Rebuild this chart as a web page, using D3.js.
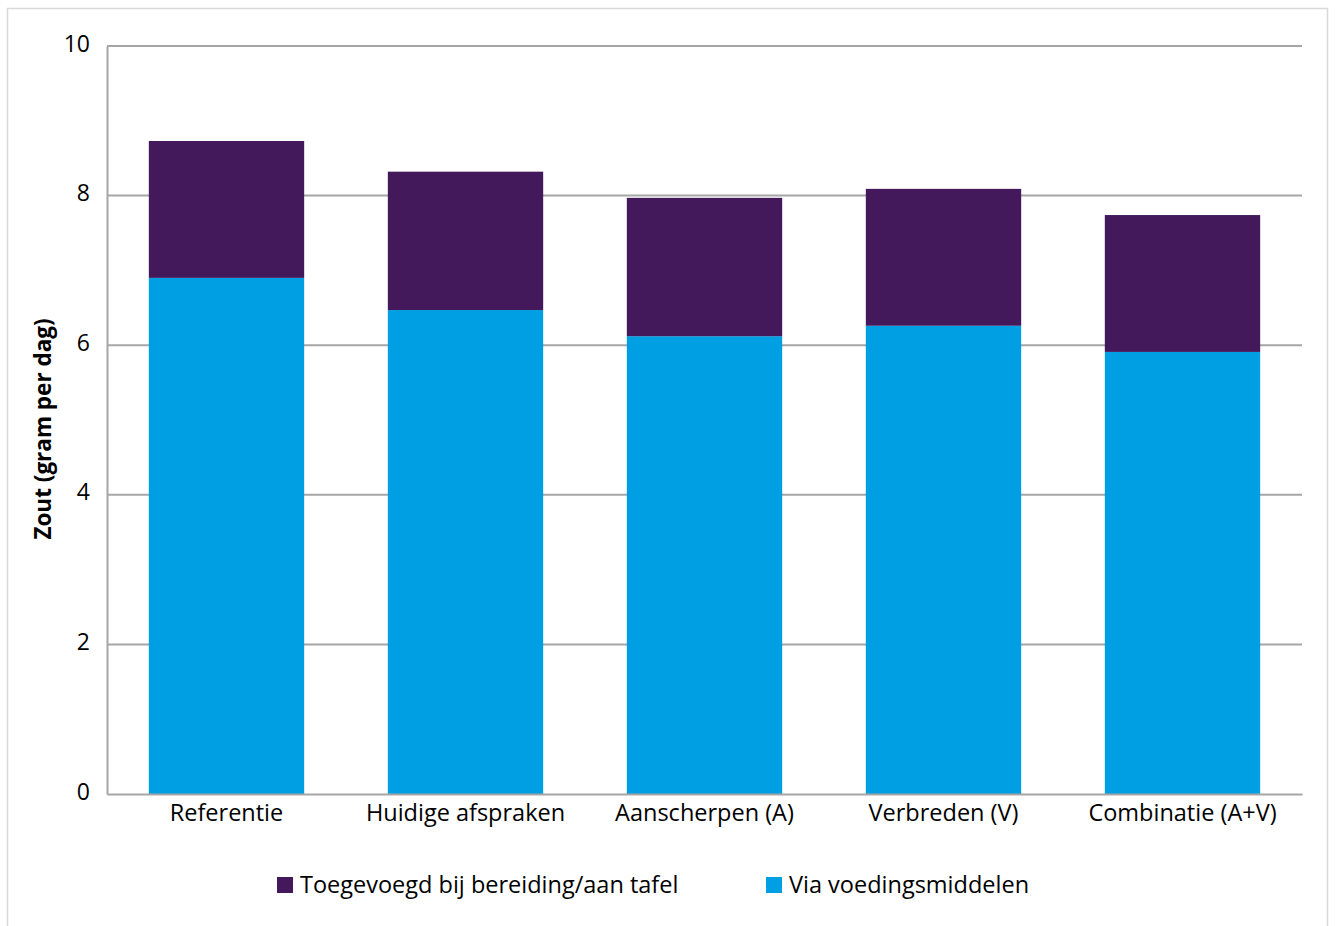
<!DOCTYPE html>
<html>
<head>
<meta charset="utf-8">
<script src="https://cdn.jsdelivr.net/npm/d3@7"></script>
<style>
  body { margin: 0; background: #fff; }
  text { font-family: "Open Sans", sans-serif; fill: #000; }
</style>
</head>
<body>
<div id="chart"></div>
<script>
// categories and series
const categories = ['Referentie', 'Huidige afspraken', 'Aanscherpen (A)', 'Verbreden (V)', 'Combinatie (A+V)'];
const viaVoeding = [6.90, 6.47, 6.12, 6.26, 5.91];
const toegevoegd = [1.83, 1.85, 1.85, 1.83, 1.83];
const seriesNames = ['Toegevoegd bij bereiding/aan tafel', 'Via voedingsmiddelen'];
const yTicks = [0, 2, 4, 6, 8, 10];

const width = 1340, height = 926;
const colors = { voeding: '#009fe3', toegevoegd: '#43195c' };

const svg = d3.select('#chart').append('svg')
    .attr('width', width)
    .attr('height', height);

// outer frame
svg.append('rect')
    .attr('x', 7.5).attr('y', 8.5)
    .attr('width', 1320).attr('height', 940)
    .attr('fill', 'none')
    .attr('stroke', '#d9d9d9')
    .attr('stroke-width', 1.5);

const margin = { top: 46, right: 38, bottom: 132, left: 107 };
const w = width - margin.left - margin.right,
      h = height - margin.top - margin.bottom;

const x = d3.scaleBand()
    .domain(categories)
    .range([0, w])
    .paddingInner(0.35)
    .paddingOuter(0.175);
const y = d3.scaleLinear()
    .domain([0, 10])
    .range([h, 0]);

const chart = svg.append('g')
    .attr('transform', `translate(${margin.left},${margin.top})`);

// gridlines
chart.append('g')
    .selectAll('line')
    .data(yTicks.filter(d => d > 0))
    .enter().append('line')
        .attr('x1', 0).attr('x2', w)
        .attr('y1', d => y(d)).attr('y2', d => y(d))
        .attr('stroke', '#a6a6a6')
        .attr('stroke-width', 2);

// stacked data
const rows = categories.map((c, i) => ({ cat: c, voeding: viaVoeding[i], toegevoegd: toegevoegd[i] }));
const stack = d3.stack().keys(['voeding', 'toegevoegd'])(rows);

chart.append('g')
    .selectAll('g')
    .data(stack)
    .enter().append('g')
        .attr('fill', d => colors[d.key])
    .selectAll('rect')
    .data(d => d)
    .enter().append('rect')
        .attr('x', d => x(d.data.cat))
        .attr('y', d => y(d[1]))
        .attr('width', x.bandwidth())
        .attr('height', d => y(d[0]) - y(d[1]));

// y axis
const yAxis = d3.axisLeft(y).tickValues(yTicks).tickSize(0).tickPadding(17);
const ya = chart.append('g').call(yAxis);
ya.select('.domain').attr('stroke', '#a6a6a6').attr('stroke-width', 2);
ya.selectAll('text')
    .style('font-family', '"Open Sans", sans-serif')
    .style('font-size', '23px')
    .attr('dy', '0.22em')
    .attr('fill', '#000');

// x axis
const xAxis = d3.axisBottom(x).tickSize(0).tickPadding(10);
const xa = chart.append('g')
    .attr('transform', `translate(0,${h})`)
    .call(xAxis);
xa.select('.domain').attr('stroke', '#a6a6a6').attr('stroke-width', 2);
xa.selectAll('text')
    .style('font-family', '"Open Sans", sans-serif')
    .style('font-size', '23.5px')
    .attr('fill', '#000');

// y axis title
svg.append('text')
    .attr('transform', `translate(51,${margin.top + h / 2 + 9}) rotate(-90)`)
    .attr('text-anchor', 'middle')
    .style('font-size', '22.5px')
    .style('font-weight', 'bold')
    .text('Zout (gram per dag)');

// legend
const legend = svg.append('g');
const legendItems = [
  { name: seriesNames[0], color: colors.toegevoegd, x: 277 },
  { name: seriesNames[1], color: colors.voeding, x: 766 }
];
const li = legend.selectAll('g')
    .data(legendItems)
    .enter().append('g')
        .attr('transform', d => `translate(${d.x},877)`);
li.append('rect')
    .attr('width', 16).attr('height', 16)
    .attr('fill', d => d.color);
li.append('text')
    .attr('x', 23).attr('y', 16)
    .style('font-size', '23.5px')
    .text(d => d.name);
</script>
</body>
</html>
